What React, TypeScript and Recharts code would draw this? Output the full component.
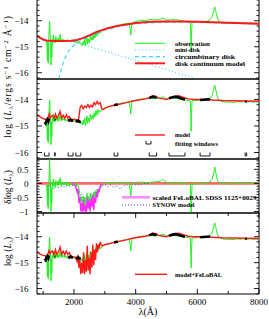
import React from "react";
import { LineChart, Line, XAxis, YAxis, ReferenceArea } from "recharts";

const W = 269;
const PLOT_L = 37;
const PLOT_R = 259;
const PLOT_W = PLOT_R - PLOT_L;
const SERIF = "'Liberation Serif', 'DejaVu Serif', serif";
const LAMBDA: [number, number] = [800, 8000];
const xTicks = [1000, 2000, 3000, 4000, 5000, 6000, 7000, 8000];

// observed spectrum, log L_lambda vs wavelength (A)
const observed: [number, number][] = [
  [1100, -14.78], [1120, -14.86], [1140, -15.55], [1150, -14.8], [1165, -15.62], [1180, -14.74],
  [1195, -14.32], [1210, -14.02], [1225, -14.5], [1240, -14.8], [1255, -15.7], [1265, -14.86],
  [1280, -15.4], [1295, -14.7], [1310, -14.86], [1330, -14.55], [1350, -14.8], [1370, -14.72],
  [1390, -14.85], [1410, -14.6], [1430, -14.78], [1450, -14.7], [1470, -14.82], [1490, -14.66],
  [1510, -14.8], [1530, -14.72], [1550, -14.52], [1570, -14.75], [1590, -14.82], [1610, -14.7],
  [1640, -14.78], [1670, -14.72], [1700, -14.8], [1730, -14.74], [1760, -14.82], [1790, -14.72],
  [1820, -14.78], [1850, -14.8], [1880, -14.74], [1910, -14.8], [1940, -14.76], [1970, -14.82],
  [2000, -14.78], [2030, -14.84], [2060, -14.78], [2090, -14.85], [2120, -14.8], [2150, -14.88],
  [2180, -14.82], [2210, -14.9], [2240, -14.86], [2270, -14.96], [2300, -14.78], [2320, -14.93],
  [2350, -14.7], [2370, -14.98], [2400, -14.8], [2420, -14.62], [2440, -14.9], [2470, -14.7],
  [2500, -14.86], [2530, -14.55], [2560, -14.76], [2590, -14.6], [2620, -14.74], [2650, -14.5],
  [2680, -14.66], [2710, -14.42], [2740, -14.6], [2770, -14.38], [2800, -14.52], [2830, -14.4],
  [2870, -14.46], [2900, -14.38], [2950, -14.36], [3000, -14.32], [3100, -14.28], [3200, -14.25],
  [3300, -14.22], [3400, -14.19], [3500, -14.16], [3600, -14.13], [3700, -14.11], [3780, -14.09],
  [3820, -14.3], [3840, -14.55], [3860, -14.3], [3880, -14.08], [3950, -14.05], [4000, -14.03],
  [4100, -14.0], [4200, -13.98], [4300, -13.99], [4400, -13.97], [4500, -13.95], [4600, -13.97],
  [4700, -13.96], [4800, -13.94], [4870, -13.9], [4920, -13.92], [5000, -13.98], [5100, -13.97],
  [5200, -13.95], [5300, -13.96], [5400, -13.98], [5500, -14.0], [5600, -14.02], [5700, -14.03],
  [5770, -14.05], [5790, -14.6], [5800, -15.2], [5810, -14.6], [5830, -14.05], [5900, -14.04],
  [6000, -14.04], [6100, -14.03], [6200, -14.02], [6300, -14.02], [6400, -13.98], [6480, -13.85],
  [6530, -13.62], [6565, -13.47], [6600, -13.65], [6650, -13.9], [6700, -14.02], [6800, -14.08],
  [6900, -14.1], [7000, -14.1], [7200, -14.11], [7300, -14.08], [7400, -14.1], [7500, -14.08],
  [7600, -14.1], [7700, -14.08], [7800, -14.1], [7900, -14.09], [8000, -14.1],
];

const diskContinuum: [number, number][] = [
  [800, -14.58], [900, -14.66], [1000, -14.72], [1100, -14.76], [1300, -14.78], [1500, -14.78],
  [1700, -14.78], [1900, -14.77], [2100, -14.74], [2300, -14.66], [2500, -14.56], [2700, -14.45],
  [2900, -14.36], [3100, -14.29], [3400, -14.2], [3700, -14.14], [4000, -14.09], [4500, -14.04],
  [5000, -14.03], [5500, -14.03], [6000, -14.04], [6500, -14.06], [7000, -14.08], [7500, -14.1],
  [8000, -14.12],
];

const miniDisk: [number, number][] = [
  [800, -14.6], [1000, -14.73], [1400, -14.79], [1800, -14.8], [2000, -14.82], [2200, -14.9],
  [2600, -15.03], [3000, -15.17], [3500, -15.35], [4000, -15.52], [4500, -15.7], [5000, -15.88],
  [5500, -16.06], [6000, -16.25], [6500, -16.42],
];

const circumbinary: [number, number][] = [
  [1450, -16.5], [1500, -16.3], [1600, -15.8], [1700, -15.45], [1800, -15.2], [1900, -15.05],
  [2000, -14.93], [2200, -14.78], [2500, -14.6], [3000, -14.36], [3500, -14.2], [4000, -14.11],
  [5000, -14.05], [6000, -14.06], [7000, -14.09], [8000, -14.13],
];

const model: [number, number][] = [
  [800, -14.58], [900, -14.66], [1000, -14.72], [1100, -14.76], [1150, -14.7], [1200, -14.55],
  [1220, -14.7], [1300, -14.6], [1350, -14.72], [1400, -14.55], [1440, -14.7], [1500, -14.6],
  [1550, -14.45], [1600, -14.7], [1650, -14.6], [1700, -14.72], [1750, -14.58], [1800, -14.7],
  [1850, -14.64], [1900, -14.76], [2000, -14.75], [2100, -14.78], [2150, -14.74], [2200, -14.3],
  [2250, -14.22], [2300, -14.35], [2350, -14.25], [2400, -14.3], [2450, -14.2], [2500, -14.3],
  [2550, -14.22], [2600, -14.28], [2650, -14.12], [2700, -14.2], [2750, -14.08], [2800, -14.18],
  [2850, -14.12], [2900, -14.35], [2950, -14.38], [3000, -14.34], [3100, -14.28], [3300, -14.22],
  [3500, -14.17], [3700, -14.12], [3900, -14.06], [4100, -14.02], [4300, -13.98], [4450, -13.93],
  [4550, -13.86], [4650, -13.88], [4750, -13.95], [4850, -13.97], [5000, -14.0], [5100, -13.95],
  [5250, -13.88], [5400, -13.86], [5550, -13.92], [5700, -13.98], [5900, -14.0], [6100, -14.0],
  [6300, -14.0], [6500, -14.02], [6800, -14.04], [7200, -14.05], [7600, -14.06], [8000, -14.07],
];

const modelFeLoBAL: [number, number][] = [
  [800, -14.6], [900, -14.67], [1000, -14.72], [1100, -14.75], [1150, -14.68], [1200, -14.5],
  [1220, -14.65], [1300, -14.55], [1350, -14.7], [1400, -14.5], [1440, -14.68], [1500, -14.58],
  [1550, -14.4], [1600, -14.68], [1650, -14.56], [1700, -14.7], [1750, -14.55], [1800, -14.68],
  [1850, -14.62], [1900, -14.75], [2000, -14.78], [2050, -14.8], [2100, -14.95], [2130, -14.7],
  [2160, -15.2], [2190, -14.9], [2220, -15.45], [2250, -15.0], [2280, -15.4], [2310, -14.6],
  [2340, -15.45], [2370, -14.9], [2400, -15.35], [2430, -14.35], [2460, -15.3], [2490, -14.8],
  [2520, -15.45], [2550, -14.6], [2580, -15.2], [2610, -14.3], [2640, -15.1], [2670, -14.5],
  [2700, -14.9], [2730, -14.25], [2760, -14.6], [2790, -14.3], [2820, -14.45], [2850, -14.2],
  [2880, -14.3], [2920, -14.35], [2960, -14.32], [3000, -14.3], [3100, -14.28], [3300, -14.22],
  [3500, -14.17], [3700, -14.12], [3900, -14.06], [4100, -14.02], [4300, -13.98], [4450, -13.93],
  [4550, -13.86], [4650, -13.88], [4750, -13.95], [4850, -13.97], [5000, -14.0], [5100, -13.95],
  [5250, -13.88], [5400, -13.86], [5550, -13.92], [5700, -13.98], [5900, -14.0], [6100, -14.0],
  [6300, -14.0], [6500, -14.02], [6800, -14.04], [7200, -14.05], [7600, -14.06], [8000, -14.07],
];

// fitting windows (A) and the observed points inside them
const windows: [number, number][] = [
  [1040, 1190], [1370, 1390], [1810, 1970], [2060, 2220], [3300, 3420],
  [4440, 4680], [5080, 5600], [6090, 6410], [7550, 7600],
];
const windowFlux: [number, number | null][] = [
  [1050, -14.85], [1080, -14.9], [1110, -14.8], [1140, -14.75], [1170, -14.82], [1190, -14.72], [1191, null],
  [1370, -14.76], [1390, -14.78], [1391, null],
  [1810, -14.76], [1850, -14.8], [1890, -14.76], [1930, -14.8], [1970, -14.8], [1971, null],
  [2060, -14.8], [2100, -14.83], [2140, -14.8], [2180, -14.84], [2220, -14.82], [2221, null],
  [3300, -14.22], [3360, -14.2], [3420, -14.18], [3421, null],
  [4440, -13.95], [4500, -13.92], [4560, -13.9], [4620, -13.92], [4680, -13.93], [4681, null],
  [5080, -13.96], [5200, -13.92], [5300, -13.9], [5400, -13.93], [5500, -13.97], [5600, -14.0], [5601, null],
  [6090, -14.02], [6200, -14.01], [6300, -14.0], [6410, -13.99], [6411, null],
  [7550, -14.08], [7600, -14.08],
];

// residuals, delta log L
const residual: [number, number][] = [
  [1100, -0.05], [1120, -0.15], [1140, -0.8], [1150, -0.05], [1165, -0.9], [1180, 0.0], [1195, 0.3],
  [1210, 0.85], [1225, 0.2], [1240, -0.1], [1255, -1.0], [1265, -0.15], [1280, -0.7], [1295, 0.05],
  [1310, -0.1], [1330, 0.15], [1350, -0.1], [1370, 0.0], [1390, -0.15], [1410, 0.1], [1430, -0.05],
  [1450, 0.05], [1470, -0.1], [1490, 0.1], [1510, -0.05], [1530, 0.05], [1550, 0.2], [1570, 0.0],
  [1590, -0.1], [1610, 0.05], [1640, -0.05], [1670, 0.05], [1700, -0.05], [1730, 0.05], [1760, -0.1],
  [1790, 0.05], [1820, -0.05], [1850, -0.1], [1880, 0.0], [1910, -0.05], [1940, 0.02], [1970, -0.05],
  [2000, 0.0], [2030, -0.08], [2060, 0.0], [2090, -0.1], [2120, -0.05], [2150, -0.15], [2180, -0.3],
  [2210, -0.6], [2240, -0.5], [2270, -0.8], [2300, -0.45], [2320, -0.9], [2350, -0.5], [2370, -0.85],
  [2400, -0.6], [2420, -0.35], [2440, -0.75], [2470, -0.5], [2500, -0.7], [2530, -0.35], [2560, -0.6],
  [2590, -0.4], [2620, -0.55], [2650, -0.3], [2680, -0.6], [2710, -0.25], [2740, -0.45], [2770, -0.2],
  [2800, -0.35], [2830, -0.2], [2870, -0.15], [2900, -0.05], [2950, -0.02], [3000, 0.02], [3200, 0.03],
  [3400, 0.02], [3600, 0.0], [3780, 0.02], [3820, -0.2], [3840, -0.45], [3860, -0.2], [3880, 0.0],
  [4000, 0.04], [4200, 0.04], [4400, 0.03], [4600, 0.05], [4800, 0.08], [4870, 0.15], [4920, 0.1],
  [5000, 0.03], [5200, 0.0], [5400, 0.0], [5600, 0.0], [5770, -0.03], [5790, -0.6], [5800, -1.1],
  [5810, -0.6], [5830, -0.02], [6000, -0.02], [6200, 0.0], [6400, 0.05], [6480, 0.15], [6530, 0.35],
  [6565, 0.58], [6600, 0.38], [6650, 0.12], [6700, 0.02], [6900, -0.02], [7200, 0.0], [7500, 0.02],
  [7800, 0.0], [8000, -0.02],
];

const feLoBAL: [number, number][] = [
  [1950, 0.0], [2000, -0.05], [2050, -0.1], [2100, -0.3], [2130, -0.2], [2160, -0.7], [2190, -0.5],
  [2220, -1.0], [2250, -0.7], [2280, -1.05], [2310, -0.6], [2340, -1.0], [2370, -0.8], [2400, -1.05],
  [2430, -0.5], [2460, -0.9], [2490, -0.6], [2520, -1.0], [2550, -0.55], [2580, -0.85], [2610, -0.4],
  [2640, -0.95], [2670, -0.5], [2700, -0.7], [2730, -0.3], [2760, -0.5], [2790, -0.2], [2820, -0.3],
  [2850, -0.1], [2880, -0.05], [2920, 0.0],
];

const synow: [number, number][] = [
  [1100, -0.1], [1150, -0.25], [1200, -0.05], [1250, -0.3], [1300, -0.15], [1350, -0.2], [1400, -0.1],
  [1500, -0.15], [1600, -0.1], [1700, -0.12], [1800, -0.08], [1900, -0.1], [2000, -0.05], [2100, -0.2],
  [2150, -0.45], [2200, -0.6], [2250, -0.4], [2300, -0.75], [2350, -0.5], [2400, -0.8], [2450, -0.45],
  [2500, -0.6], [2550, -0.35], [2600, -0.5], [2650, -0.3], [2700, -0.4], [2750, -0.2], [2800, -0.3],
  [2850, -0.15], [2900, -0.1], [3000, -0.05], [3100, -0.12], [3200, -0.05], [3300, -0.15], [3400, -0.08],
  [3500, -0.2], [3600, -0.1], [3700, -0.05], [3800, -0.08], [3900, -0.03], [4000, -0.05], [4200, -0.02],
  [4400, 0.0],
];

const zeroLine: [number, number][] = [[800, 0], [8000, 0]];

const pts = (arr: [number, number | null][]) => arr.map(([w, v]) => ({ w, v }));

const BRACKET_TOP = -16.0;
const BRACKET_BOT = -16.13;
const bracketPts = windows.flatMap(([a, b]) => [
  { w: a, v: BRACKET_TOP },
  { w: a, v: BRACKET_BOT },
  { w: b, v: BRACKET_BOT },
  { w: b, v: BRACKET_TOP },
  { w: b + 1, v: null },
]);

const range = (a: number, b: number, s: number) => {
  const out: number[] = [];
  for (let v = a; v <= b + 1e-9; v += s) out.push(Math.round(v * 1000) / 1000);
  return out;
};

const fmtNum = (v: number) => (v < 0 ? "\u2212" + Math.abs(v) : String(v));

function makeXTick(plotH: number, labels: boolean) {
  return (p: any) => {
    const { x, y, payload } = p;
    const v = payload.value;
    const major = v % 2000 === 0;
    const len = major ? 5 : 3;
    return (
      <g key={`xt-${v}`}>
        <line x1={x} y1={y} x2={x} y2={y - len} stroke="#000" strokeWidth={0.9} />
        <line x1={x} y1={y - plotH} x2={x} y2={y - plotH + len} stroke="#000" strokeWidth={0.9} />
        {labels && major ? (
          <text x={x} y={y + 10.5} textAnchor="middle" fontSize={9} fontFamily={SERIF} fill="#000">
            {v}
          </text>
        ) : null}
      </g>
    );
  };
}

function makeYTick(majorStep: number) {
  return (p: any) => {
    const { x, y, payload } = p;
    const v = payload.value;
    const r = v / majorStep;
    const major = Math.abs(r - Math.round(r)) < 1e-6;
    const len = major ? 5 : 2.5;
    return (
      <g key={`yt-${v}`}>
        <line x1={x} y1={y} x2={x + len} y2={y} stroke="#000" strokeWidth={0.9} />
        <line x1={x + PLOT_W} y1={y} x2={x + PLOT_W - len} y2={y} stroke="#000" strokeWidth={0.9} />
        {major ? (
          <text x={x - 8.5} y={y + 3.2} textAnchor="end" fontSize={9} fontFamily={SERIF} fill="#000">
            {fmtNum(v)}
          </text>
        ) : null}
      </g>
    );
  };
}

interface PanelProps {
  top: number;
  plotH: number;
  domain: [number, number];
  minorStep: number;
  majorStep: number;
  showX?: boolean;
  children: React.ReactNode;
}

function Panel({ top, plotH, domain, minorStep, majorStep, showX = false, children }: PanelProps) {
  const xh = showX ? 26 : 0;
  const lo = Math.ceil(domain[0] / minorStep - 1e-6) * minorStep;
  const yTicks = range(lo, domain[1], minorStep).filter((t) => t >= domain[0] && t <= domain[1]);
  return (
    <div style={{ position: "absolute", left: 0, top }}>
      <LineChart width={W} height={plotH + xh} margin={{ top: 0, right: W - PLOT_R, bottom: 0, left: 0 }}>
        <XAxis
          type="number"
          dataKey="w"
          domain={LAMBDA}
          ticks={xTicks}
          interval={0}
          height={xh}
          tickSize={0}
          tickMargin={0}
          tickLine={false}
          axisLine={false}
          allowDataOverflow
          tick={makeXTick(plotH, showX)}
        />
        <YAxis
          type="number"
          domain={domain}
          ticks={yTicks}
          interval={0}
          width={PLOT_L}
          tickSize={0}
          tickMargin={0}
          tickLine={false}
          axisLine={false}
          allowDataOverflow
          tick={makeYTick(majorStep)}
        />
        {children}
        <ReferenceArea
          x1={LAMBDA[0]}
          x2={LAMBDA[1]}
          y1={domain[0]}
          y2={domain[1]}
          fill="none"
          stroke="#000"
          strokeWidth={1}
        />
      </LineChart>
    </div>
  );
}

const GREEN = "#1cf21c";
const RED = "#ff1a1a";
const CYAN = "#3fd8f0";

export default function App() {
  const legendText = { fontSize: 7, fontFamily: SERIF, fontWeight: 700, fill: "#000" } as const;
  const titleText = { fontSize: 9.5, fontFamily: SERIF, fill: "#000" } as const;
  return (
    <div style={{ position: "absolute", left: 0, top: 0, width: 269, height: 319, background: "#fff", overflow: "hidden" }}>
      <style>{".recharts-surface{overflow:visible}"}</style>
      <Panel top={-2} plotH={81} domain={[-16.24, -13.125]} minorStep={0.2} majorStep={1}>
        <Line data={pts(observed)} dataKey="v" type="linear" dot={false} stroke={GREEN} strokeWidth={1} isAnimationActive={false} />
        <Line data={pts(miniDisk)} dataKey="v" type="linear" dot={false} stroke={CYAN} strokeWidth={1.2} strokeDasharray="1 2.5" isAnimationActive={false} />
        <Line data={pts(circumbinary)} dataKey="v" type="linear" dot={false} stroke={CYAN} strokeWidth={1.2} strokeDasharray="4 3" isAnimationActive={false} />
        <Line data={pts(diskContinuum)} dataKey="v" type="linear" dot={false} stroke={RED} strokeWidth={2} isAnimationActive={false} />
      </Panel>
      <Panel top={79} plotH={80} domain={[-16.245, -13.23]} minorStep={0.2} majorStep={1}>
        <Line data={pts(observed)} dataKey="v" type="linear" dot={false} stroke={GREEN} strokeWidth={1} isAnimationActive={false} />
        <Line data={pts(model)} dataKey="v" type="linear" dot={false} stroke={RED} strokeWidth={1.4} isAnimationActive={false} />
        <Line data={pts(windowFlux)} dataKey="v" type="linear" dot={false} stroke="#000" strokeWidth={2.6} isAnimationActive={false} />
        <Line data={bracketPts} dataKey="v" type="linear" dot={false} stroke="#000" strokeWidth={0.9} isAnimationActive={false} />
      </Panel>
      <Panel top={159} plotH={54} domain={[-1.054, 0.868]} minorStep={0.1} majorStep={0.5}>
        <Line data={pts(zeroLine)} dataKey="v" type="linear" dot={false} stroke="#ff6a6a" strokeWidth={2.6} isAnimationActive={false} />
        <Line data={pts(synow)} dataKey="v" type="linear" dot={false} stroke="#3a3aff" strokeWidth={1} strokeDasharray="1 2" isAnimationActive={false} />
        <Line data={pts(residual)} dataKey="v" type="linear" dot={false} stroke={GREEN} strokeWidth={1} isAnimationActive={false} />
        <Line data={pts(feLoBAL)} dataKey="v" type="linear" dot={false} stroke="#ff2cff" strokeWidth={1.4} isAnimationActive={false} />
      </Panel>
      <Panel top={213} plotH={81} domain={[-16.21, -13.085]} minorStep={0.2} majorStep={1} showX>
        <Line data={pts(observed)} dataKey="v" type="linear" dot={false} stroke={GREEN} strokeWidth={1} isAnimationActive={false} />
        <Line data={pts(modelFeLoBAL)} dataKey="v" type="linear" dot={false} stroke={RED} strokeWidth={1.4} isAnimationActive={false} />
        <Line data={pts(windowFlux)} dataKey="v" type="linear" dot={false} stroke="#000" strokeWidth={2.6} isAnimationActive={false} />
      </Panel>

      <svg width={269} height={319} style={{ position: "absolute", left: 0, top: 0, pointerEvents: "none" }}>
        {/* axis titles */}
        <text transform="translate(11,76.5) rotate(-90)" textAnchor="middle" {...titleText} letterSpacing={0.9}>
          log (<tspan fontStyle="italic">L</tspan>
          <tspan dy={2} fontSize={7}>λ</tspan>
          <tspan dy={-2}>/ergs s</tspan>
          <tspan dy={-3.5} fontSize={7}>−1</tspan>
          <tspan dy={3.5}> cm</tspan>
          <tspan dy={-3.5} fontSize={7}>−2</tspan>
          <tspan dy={3.5}> Å</tspan>
          <tspan dy={-3.5} fontSize={7}>−1</tspan>
          <tspan dy={3.5}>)</tspan>
        </text>
        <text transform="translate(11,187) rotate(-90)" textAnchor="middle" {...titleText}>
          δlog (<tspan fontStyle="italic">L</tspan>
          <tspan dy={2} fontSize={7}>λ</tspan>
          <tspan dy={-2}>)</tspan>
        </text>
        <text transform="translate(11,251.5) rotate(-90)" textAnchor="middle" {...titleText}>
          log (<tspan fontStyle="italic">L</tspan>
          <tspan dy={2} fontSize={7}>λ</tspan>
          <tspan dy={-2}>)</tspan>
        </text>
        <text x={148} y={314.5} textAnchor="middle" fontSize={10} fontFamily={SERIF} fill="#000">
          λ(Å)
        </text>

        {/* panel 1 legend */}
        <line x1={135} y1={43.3} x2={165} y2={43.3} stroke={GREEN} strokeWidth={1} />
        <text x={175} y={45.5} {...legendText} textLength={35} lengthAdjust="spacingAndGlyphs">observation</text>
        <line x1={135} y1={50} x2={165} y2={50} stroke={CYAN} strokeWidth={1.2} strokeDasharray="1 2.5" />
        <text x={175} y={52.2} {...legendText} textLength={25} lengthAdjust="spacingAndGlyphs">mini-disk</text>
        <line x1={135} y1={56.7} x2={165} y2={56.7} stroke={CYAN} strokeWidth={1.2} strokeDasharray="4 3" />
        <text x={175} y={58.9} {...legendText} textLength={60} lengthAdjust="spacingAndGlyphs">circumbinary disk</text>
        <line x1={135} y1={63.3} x2={165} y2={63.3} stroke={RED} strokeWidth={2} />
        <text x={175} y={65.5} {...legendText} textLength={70} lengthAdjust="spacingAndGlyphs">disk continuum model</text>

        {/* panel 2 legend */}
        <line x1={135} y1={135} x2={165} y2={135} stroke={RED} strokeWidth={1.4} />
        <text x={175} y={137.2} {...legendText} textLength={15} lengthAdjust="spacingAndGlyphs">model</text>
        <polyline points="146,140.8 146,144 151,144 151,140.8" fill="none" stroke="#000" strokeWidth={0.9} />
        <text x={175} y={145.5} {...legendText} textLength={43} lengthAdjust="spacingAndGlyphs">fitting windows</text>

        {/* panel 3 legend */}
        <line x1={122} y1={197.3} x2={150} y2={197.3} stroke="#ff88ff" strokeWidth={2.6} />
        <text x={152.5} y={199.5} {...legendText} textLength={104} lengthAdjust="spacingAndGlyphs">scaled FeLoBAL SDSS 1125+0029</text>
        <line x1={122} y1={205} x2={150} y2={205} stroke="#3a3aff" strokeWidth={1} strokeDasharray="1 2" />
        <text x={152.5} y={207.2} {...legendText} textLength={42} lengthAdjust="spacingAndGlyphs">SYNOW model</text>

        {/* panel 4 legend */}
        <line x1={135} y1={274.3} x2={167} y2={274.3} stroke={RED} strokeWidth={1.4} />
        <text x={175} y={276.5} {...legendText} textLength={47} lengthAdjust="spacingAndGlyphs">model+FeLoBAL</text>
      </svg>
    </div>
  );
}
